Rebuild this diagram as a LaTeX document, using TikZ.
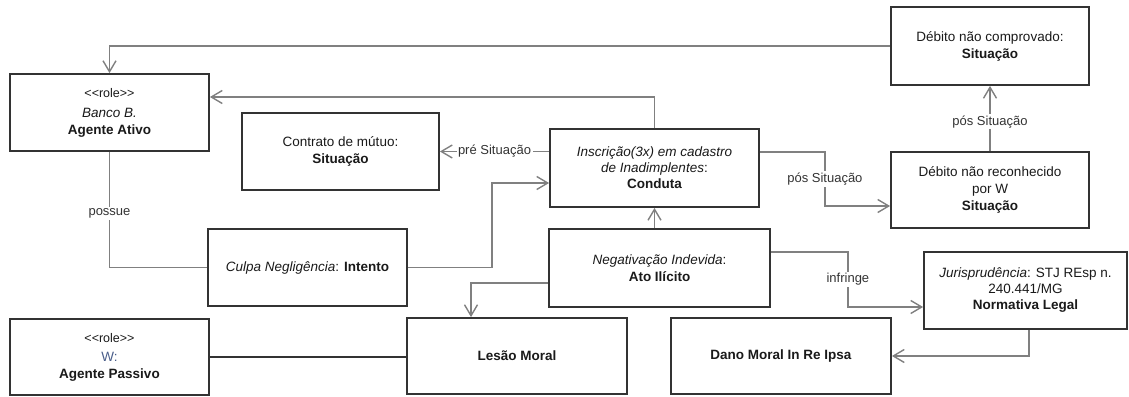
\documentclass[tikz,border=0pt]{standalone}
\usepackage{fontspec}
\setmainfont{Liberation Sans}[Ligatures=TeXOff]
\usetikzlibrary{arrows.meta}
\definecolor{boxc}{HTML}{333333}
\definecolor{connc}{HTML}{808080}
\definecolor{txtc}{HTML}{1A1A1A}
\definecolor{lblc}{HTML}{333333}
\definecolor{wc}{HTML}{4A5E8A}
\begin{document}
\begin{tikzpicture}[x=1pt,y=-1pt,
  box/.style={draw=boxc, line width=1.8pt, fill=white, align=center, inner sep=0pt, text=txtc, font=\fontsize{13.5}{17}\selectfont},
  conn/.style={draw=connc, line width=1.4pt, -{Straight Barb[length=11pt,width=13pt]}},
  plainconn/.style={draw=connc, line width=1.4pt},
  solidlink/.style={draw=boxc, line width=1.8pt},
  lbl/.style={fill=white, inner sep=1.5pt, text=lblc, font=\fontsize{13}{15}\selectfont}]
\useasboundingbox (0,0) rectangle (1129,396);

% boxes
\node[box, minimum width=199, minimum height=77] (banco) at (109.5,112.5)
  {{\fontsize{12.5}{14}\selectfont <<role>>}\\[3pt]\textit{Banco B.}\\\textbf{Agente Ativo}};
\node[box, minimum width=197, minimum height=77] (contrato) at (340.5,151.5)
  {Contrato de mútuo:\\\textbf{Situação}};
\node[box, minimum width=209, minimum height=78, font=\fontsize{13.5}{16}\selectfont] (insc) at (654.5,168)
  {\textit{Inscrição(3x) em cadastro}\\\textit{de Inadimplentes}:\\\textbf{Conduta}};
\node[box, minimum width=198, minimum height=78] (dc) at (990,46)
  {Débito não comprovado:\\\textbf{Situação}};
\node[box, minimum width=198, minimum height=76] (dr) at (990,190)
  {Débito não reconhecido\\por W\hspace*{52pt}\\\textbf{Situação}};
\node[box, minimum width=199, minimum height=77] (culpa) at (307.5,267.5)
  {\textit{Culpa Negligência}: \textbf{Intento}};
\node[box, minimum width=221, minimum height=78] (negat) at (659.5,268)
  {\textit{Negativação Indevida}:\\\textbf{Ato Ilícito}};
\node[box, minimum width=203, minimum height=77, font=\fontsize{13.5}{16}\selectfont] (jur) at (1025.5,290.5)
  {\textit{Jurisprudência}: STJ REsp n.\\240.441/MG\\\textbf{Normativa Legal}};
\node[box, minimum width=199, minimum height=76] (agp) at (109.5,357)
  {{\fontsize{12.5}{14}\selectfont <<role>>}\\[2pt]\textcolor{wc}{W:}\\\textbf{Agente Passivo}};
\node[box, minimum width=220, minimum height=76] (lesao) at (517,356)
  {\textbf{Lesão Moral}};
\node[box, minimum width=220, minimum height=76] (dano) at (781,356)
  {\textbf{Dano Moral In Re Ipsa}};

% connectors
\draw[conn] (dc.west) -| (banco.north);
\draw[conn] (insc.north) |- ([yshift=15.5pt]banco.east);
\draw[conn] (insc.west |- contrato.east) -- node[lbl] {pré Situação} (contrato.east);
\draw[conn] (culpa.east) -- ++(84,0) |- ([yshift=-15pt]insc.west);
\draw[plainconn] (banco.south) |- node[lbl, pos=0.265] {possue} (culpa.west);
\draw[conn] ([yshift=16pt]insc.east) -- ++(65,0) |- node[lbl, pos=0.25] {pós Situação} ([yshift=-16pt]dr.west);
\draw[conn] (dr.north) -- node[lbl, pos=0.45] {pós Situação} (dc.south);
\draw[conn] (insc.south |- negat.north) -- (insc.south);
\draw[conn] ([yshift=-15pt]negat.west) -| ([xshift=-46pt]lesao.north);
\draw[solidlink] (agp.east) -- (agp.east -| lesao.west);
\draw[conn] ([yshift=16pt]negat.east) -- ++(77,0) |- node[lbl, pos=0.25] {infringe} ([yshift=-16.5pt]jur.west);
\draw[conn] ([xshift=3.5pt]jur.south) |- (dano.east);
\end{tikzpicture}
\end{document}
